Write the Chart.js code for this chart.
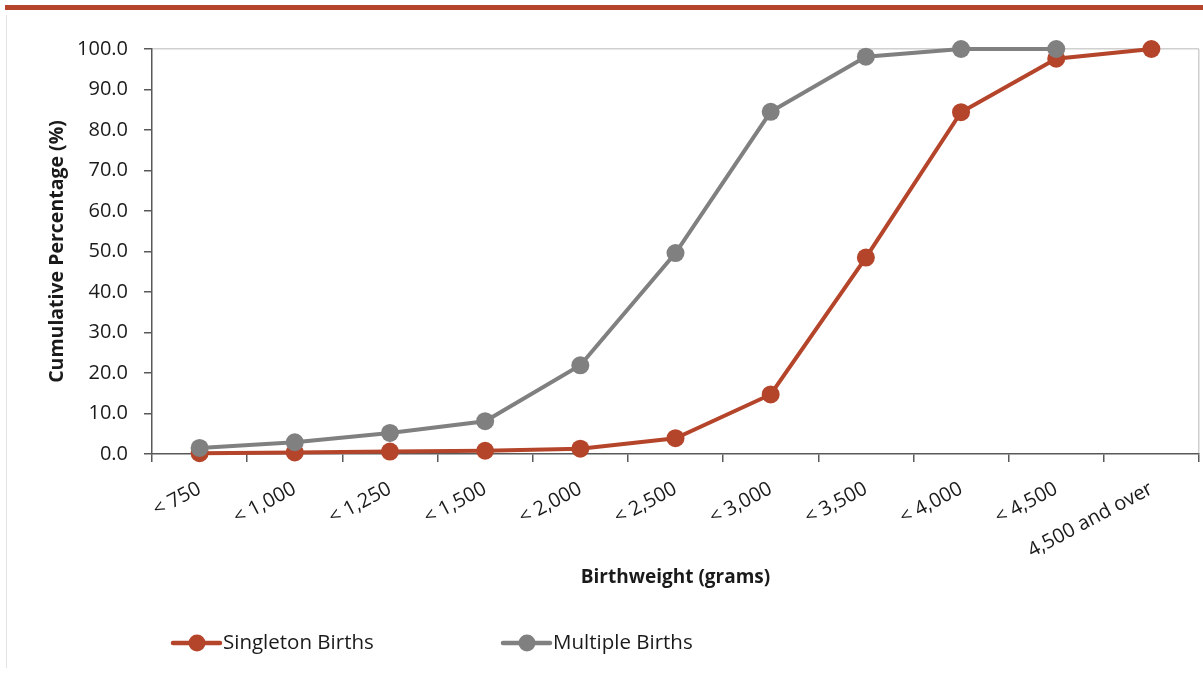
<!DOCTYPE html>
<html>
<head>
<meta charset="utf-8">
<script src="https://cdn.jsdelivr.net/npm/chart.js@4/dist/chart.umd.min.js"></script>
<style>
  html, body { margin: 0; padding: 0; background: #fff; }
  #wrap { position: relative; width: 1203px; height: 684px; overflow: hidden; }
  #topbar { position: absolute; left: 5px; top: 5px; width: 1198px; height: 5px; background: #B4442A; }
  #frame { position: absolute; left: 6px; top: 15px; width: 1px; height: 653px; background: #e2e2e2; }
  canvas { position: absolute; left: 0; top: 0; }
</style>
</head>
<body>
<div id="wrap">
  <div id="topbar"></div>
  <div id="frame"></div>
  <canvas id="c" width="1203" height="684"></canvas>
</div>
<script>
// Birthweight bands (x categories)
const categories = ['< 750', '< 1,000', '< 1,250', '< 1,500', '< 2,000', '< 2,500',
                    '< 3,000', '< 3,500', '< 4,000', '< 4,500', '4,500 and over'];
// Cumulative percentage of births at or below each band
const singletonBirths = [0.2, 0.4, 0.6, 0.8, 1.3, 3.9, 14.7, 48.5, 84.4, 97.6, 100.0];
const multipleBirths  = [1.5, 2.9, 5.2, 8.1, 21.9, 49.6, 84.5, 98.1, 100.0, 100.0, null];
// Y axis ticks
const yTicks = [0, 10, 20, 30, 40, 50, 60, 70, 80, 90, 100];

const RED = '#B5452A';
const GREY = '#808080';
const AXIS = '#595959';
const FONT = "'Open Sans', 'Noto Sans', sans-serif";

const PAD_TOP = 49, PAD_RIGHT = 4, PAD_BOTTOM = 90, PLOT_BOTTOM = 454, PLOT_LEFT = 152;

// Legend drawn as line + marker swatches below the axis title
const lineLegend = {
  id: 'lineLegend',
  afterDraw(chart) {
    const ctx = chart.ctx;
    const items = [
      { ds: chart.data.datasets[0], x0: 173 },
      { ds: chart.data.datasets[1], x0: 503 }
    ];
    const y = 643;
    ctx.save();
    items.forEach(it => {
      ctx.strokeStyle = it.ds.borderColor;
      ctx.lineWidth = 4.5;
      ctx.lineCap = 'round';
      ctx.beginPath();
      ctx.moveTo(it.x0, y);
      ctx.lineTo(it.x0 + 47, y);
      ctx.stroke();
      ctx.fillStyle = it.ds.borderColor;
      ctx.beginPath();
      ctx.arc(it.x0 + 24, y, 8.5, 0, Math.PI * 2);
      ctx.fill();
      ctx.fillStyle = '#1a1a1a';
      ctx.font = '20.5px ' + FONT;
      ctx.textBaseline = 'middle';
      ctx.textAlign = 'left';
      ctx.fillText(it.ds.label, it.x0 + 50, y);
    });
    ctx.restore();
  }
};

new Chart(document.getElementById('c'), {
  type: 'line',
  data: {
    labels: categories,
    datasets: [
      {
        label: 'Singleton Births',
        data: singletonBirths,
        borderColor: RED,
        backgroundColor: RED,
        pointBackgroundColor: RED,
        pointBorderColor: RED,
        borderWidth: 4,
        pointRadius: 9,
        pointBorderWidth: 0,
        tension: 0,
        clip: false,
        order: 1
      },
      {
        label: 'Multiple Births',
        data: multipleBirths,
        borderColor: GREY,
        backgroundColor: GREY,
        pointBackgroundColor: GREY,
        pointBorderColor: GREY,
        borderWidth: 4,
        pointRadius: 9,
        pointBorderWidth: 0,
        tension: 0,
        spanGaps: false,
        clip: false,
        order: 0
      }
    ]
  },
  options: {
    responsive: false,
    animation: false,
    events: [],
    layout: {
      autoPadding: false,
      padding: { left: 0, top: PAD_TOP, right: PAD_RIGHT, bottom: PAD_BOTTOM }
    },
    plugins: {
      legend: { display: false },
      tooltip: { enabled: false }
    },
    scales: {
      x: {
        type: 'category',
        offset: true,
        border: { display: true, color: AXIS, width: 1.5 },
        grid: {
          offset: true,
          drawOnChartArea: true,
          drawTicks: true,
          tickLength: 8,
          tickColor: AXIS,
          tickWidth: 1.5,
          lineWidth: 1.5,
          color: (c) => (c.type === 'scale' ? '#d0d0d0' : 'rgba(0,0,0,0)')
        },
        ticks: {
          autoSkip: false,
          minRotation: 28,
          maxRotation: 28,
          padding: 15,
          color: '#1a1a1a',
          font: { family: FONT, size: 20 }
        },
        title: {
          display: true,
          text: 'Birthweight (grams)',
          color: '#1a1a1a',
          font: { family: FONT, size: 19, weight: 'bold' },
          padding: { top: 0, bottom: 5 }
        },
        afterFit(scale) {
          scale.height = 684 - PAD_BOTTOM - PLOT_BOTTOM;
          scale.paddingLeft = 0;
          scale.paddingRight = 0;
        }
      },
      y: {
        min: 0,
        max: 100,
        border: { display: true, color: AXIS, width: 1.5 },
        afterBuildTicks(scale) { scale.ticks = yTicks.map(v => ({ value: v })); },
        grid: {
          drawOnChartArea: true,
          drawTicks: true,
          tickLength: 8,
          tickColor: AXIS,
          tickWidth: 1.5,
          lineWidth: 1.5,
          color: (c) => (c.tick && c.tick.value === 100 ? '#d0d0d0' : 'rgba(0,0,0,0)')
        },
        ticks: {
          padding: 16,
          color: '#1a1a1a',
          font: { family: FONT, size: 20 },
          callback: (v) => Number(v).toFixed(1)
        },
        title: {
          display: true,
          text: 'Cumulative Percentage (%)',
          color: '#1a1a1a',
          font: { family: FONT, size: 19.5, weight: 'bold' },
          padding: { top: 46, bottom: 0 }
        },
        afterFit(scale) {
          scale.width = PLOT_LEFT;
          scale.paddingTop = 0;
          scale.paddingBottom = 0;
        }
      }
    }
  },
  plugins: [lineLegend]
});
</script>
</body>
</html>
